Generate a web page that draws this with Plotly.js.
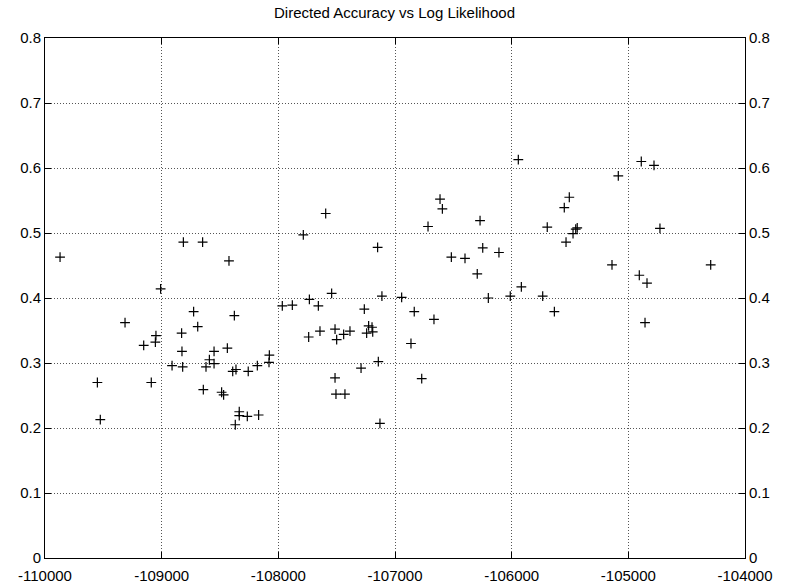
<!DOCTYPE html>
<html>
<head>
<meta charset="utf-8">
<script src="https://cdn.plot.ly/plotly-3.0.1.min.js"></script>
<style>html,body{margin:0;padding:0;background:#fff;}#chart{width:789px;height:588px;}</style>
</head>
<body>
<div id="chart"></div>
<script>
const logLikelihood = [
  -109871, -109551, -109526, -109314, -109154, -109089, -109054, -109049, -109009, -108911,
  -108829, -108826, -108820, -108814, -108726, -108691, -108649, -108643, -108620, -108591,
  -108551, -108551, -108486, -108469, -108437, -108423, -108391, -108377, -108363, -108369,
  -108335, -108335, -108266, -108258, -108180, -108169, -108080, -108077, -107966, -107880,
  -107786, -107740, -107734, -107657, -107643, -107594, -107543, -107514, -107514, -107506,
  -107500, -107440, -107429, -107386, -107291, -107263, -107243, -107226, -107197, -107191,
  -107149, -107143, -107129, -107112, -106943, -106863, -106835, -106771, -106717, -106666,
  -106614, -106594, -106517, -106400, -106295, -106271, -106248, -106200, -106109, -106012,
  -105943, -105917, -105734, -105695, -105634, -105549, -105534, -105506, -105474, -105451,
  -105438, -105140, -105086, -104906, -104889, -104857, -104840, -104780, -104729, -104294
];
const directedAccuracy = [
  0.463, 0.270, 0.213, 0.362, 0.327, 0.270, 0.332, 0.342, 0.414, 0.296,
  0.346, 0.318, 0.294, 0.486, 0.379, 0.356, 0.486, 0.259, 0.294, 0.305,
  0.318, 0.299, 0.255, 0.251, 0.323, 0.457, 0.287, 0.373, 0.290, 0.205,
  0.225, 0.219, 0.218, 0.287, 0.296, 0.220, 0.301, 0.312, 0.388, 0.389,
  0.497, 0.340, 0.398, 0.388, 0.349, 0.530, 0.407, 0.352, 0.277, 0.252,
  0.336, 0.344, 0.252, 0.349, 0.292, 0.383, 0.346, 0.357, 0.355, 0.348,
  0.478, 0.302, 0.207, 0.403, 0.401, 0.330, 0.379, 0.276, 0.510, 0.367,
  0.552, 0.537, 0.463, 0.461, 0.437, 0.519, 0.477, 0.400, 0.470, 0.403,
  0.613, 0.417, 0.403, 0.509, 0.379, 0.539, 0.486, 0.555, 0.499, 0.506,
  0.508, 0.451, 0.588, 0.435, 0.610, 0.362, 0.423, 0.604, 0.507, 0.451
];
const xTicks = [-110000, -109000, -108000, -107000, -106000, -105000, -104000];
const xTickLabels = ["-110000", "-109000", "-108000", "-107000", "-106000", "-105000", "-104000"];
const yTicks = [0, 0.1, 0.2, 0.3, 0.4, 0.5, 0.6, 0.7, 0.8];
const yTickLabels = ["0", "0.1", "0.2", "0.3", "0.4", "0.5", "0.6", "0.7", "0.8"];
const chartTitle = "Directed Accuracy vs Log Likelihood";

const font = {family: "Liberation Sans, Arial, sans-serif", size: 15, color: "#000"};

const trace = {
  x: logLikelihood,
  y: directedAccuracy,
  type: "scatter",
  mode: "markers",
  marker: {symbol: "cross-thin-open", size: 7, color: "#000", line: {color: "#000", width: 1.2}},
  hoverinfo: "x+y",
  showlegend: false
};
const ghost = {
  x: [xTicks[0]], y: [yTicks[0]], type: "scatter", mode: "markers",
  marker: {opacity: 0}, yaxis: "y2", showlegend: false, hoverinfo: "skip"
};

const axisCommon = {
  showline: true, linecolor: "#000", linewidth: 1,
  ticks: "inside", ticklen: 6, tickcolor: "#000", tickwidth: 1,
  showgrid: true, gridcolor: "#555", griddash: "1px,2px", gridwidth: 1,
  zeroline: false, tickfont: font
};

const layout = {
  width: 789, height: 588,
  margin: {l: 45, r: 44, t: 38, b: 30, pad: 0},
  paper_bgcolor: "#fff", plot_bgcolor: "#fff",
  font: font,
  title: {text: chartTitle, font: {family: font.family, size: 15, color: "#000"}, x: 0.5, xanchor: "center", y: 0.979, yanchor: "middle"},
  xaxis: Object.assign({}, axisCommon, {
    range: [xTicks[0], xTicks[xTicks.length - 1]],
    tickvals: xTicks, ticktext: xTickLabels, mirror: "ticks", ticklabelstandoff: 4
  }),
  yaxis: Object.assign({}, axisCommon, {
    range: [yTicks[0], yTicks[yTicks.length - 1]],
    tickvals: yTicks, ticktext: yTickLabels, mirror: "ticks"
  }),
  yaxis2: Object.assign({}, axisCommon, {
    range: [yTicks[0], yTicks[yTicks.length - 1]],
    tickvals: yTicks, ticktext: yTickLabels,
    overlaying: "y", side: "right", showgrid: false, ticks: "inside"
  }),
  showlegend: false
};

Plotly.newPlot("chart", [trace, ghost], layout, {displayModeBar: false, staticPlot: true});
</script>
</body>
</html>
